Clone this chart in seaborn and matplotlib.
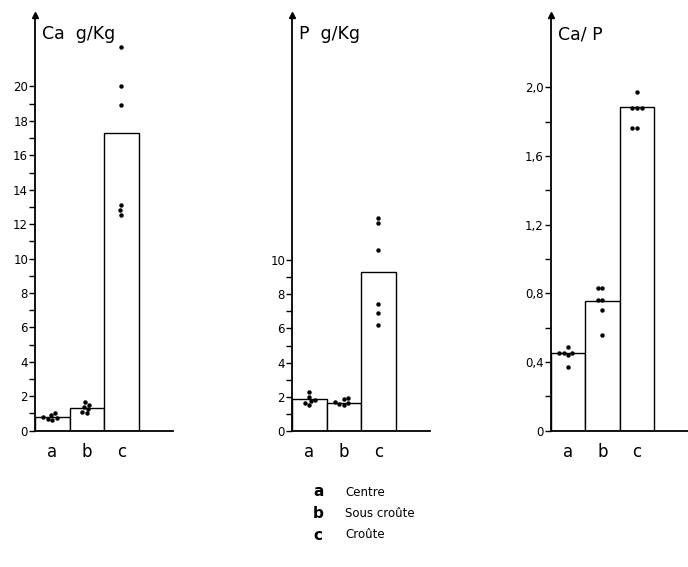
import numpy as np
import pandas as pd
import matplotlib
matplotlib.use("Agg")
import matplotlib.pyplot as plt
import seaborn as sns

cats = ["a", "b", "c"]

# bar heights
ca_bars = [0.8, 1.3, 17.3]
p_bars = [1.85, 1.65, 9.3]
ratio_bars = [0.45, 0.755, 1.885]

# individual samples (6 per group)
ca_pts = {"a": [1.0, 0.9, 0.8, 0.75, 0.7, 0.65],
          "b": [1.65, 1.5, 1.4, 1.25, 1.1, 1.0],
          "c": [22.3, 20.05, 18.95, 13.1, 12.8, 12.55]}
p_pts = {"a": [2.3, 2.0, 1.8, 1.75, 1.6, 1.5],
         "b": [1.9, 1.85, 1.7, 1.6, 1.55, 1.5],
         "c": [12.5, 12.2, 10.6, 7.45, 6.9, 6.2]}
ratio_pts = {"a": [0.485, 0.45, 0.45, 0.45, 0.44, 0.37],
             "b": [0.83, 0.83, 0.76, 0.76, 0.70, 0.56],
             "c": [1.97, 1.88, 1.88, 1.88, 1.76, 1.76]}

legend_keys = ["a", "b", "c"]
legend_names = ["Centre", "Sous croûte", "Croûte"]

sns.set_style("ticks")
plt.rcParams["font.family"] = ["DejaVu Sans"]
for k in ["text.color", "xtick.color", "ytick.color", "axes.edgecolor",
          "axes.labelcolor"]:
    plt.rcParams[k] = "black"

fig = plt.figure(figsize=(6.88, 5.67), dpi=100)

W, H = 688, 567
bottom = (H - 430.7) / H
height = (430.7 - 15) / H

panels = [
    # left px, bars, points, ylim top, ticks, labels, title
    (35, ca_bars, ca_pts, 24.15, np.arange(0, 21, 1),
     [str(v) if v % 2 == 0 else "" for v in range(0, 21)], "Ca  g/Kg"),
    (292, p_bars, p_pts, 24.4, np.arange(0, 11, 1),
     [str(v) if v % 2 == 0 else "" for v in range(0, 11)], "P  g/Kg"),
    (550.7, ratio_bars, ratio_pts, 2.42, np.round(np.arange(0, 2.01, 0.2), 1),
     ["0", "", "0,4", "", "0,8", "", "1,2", "", "1,6", "", "2,0"], "Ca/ P"),
]

for left, bars, pts, ytop, ticks, labels, title in panels:
    ax = fig.add_axes([left / W, bottom, 138 / W, height])
    sns.barplot(x=cats, y=bars, color="white", edgecolor="black",
                linewidth=1.0, width=1.0, ax=ax)
    df = pd.DataFrame([(k, v) for k in cats for v in pts[k]],
                      columns=["zone", "val"])
    sns.swarmplot(data=df, x="zone", y="val", color="black", size=3.2,
                  ax=ax, order=cats)
    ax.set_xlim(-0.5, 3.5)
    ax.set_ylim(0, ytop)
    ax.set_yticks(ticks)
    ax.set_yticklabels(labels, fontsize=8.5)
    ax.tick_params(axis="y", length=4, width=1, pad=1)
    ax.tick_params(axis="x", length=0, pad=9, labelsize=12)
    ax.set_xlabel("")
    ax.set_ylabel("")
    sns.despine(ax=ax)
    for s in ["left", "bottom"]:
        ax.spines[s].set_linewidth(1.3)
    ax.plot(0, 1.0, marker="^", color="black", markersize=5,
            transform=ax.transAxes, clip_on=False)
    ax.text(0.05, 0.975, title, transform=ax.transAxes, fontsize=12.5,
            va="top", ha="left")

for i, (k, name) in enumerate(zip(legend_keys, legend_names)):
    y = 1 - (492 + i * 21.5) / H
    fig.text(313 / W, y, k, fontsize=11, fontweight="bold", va="center")
    fig.text(345 / W, y, name, fontsize=8.5, va="center")

fig.savefig("out.png", dpi=100)
